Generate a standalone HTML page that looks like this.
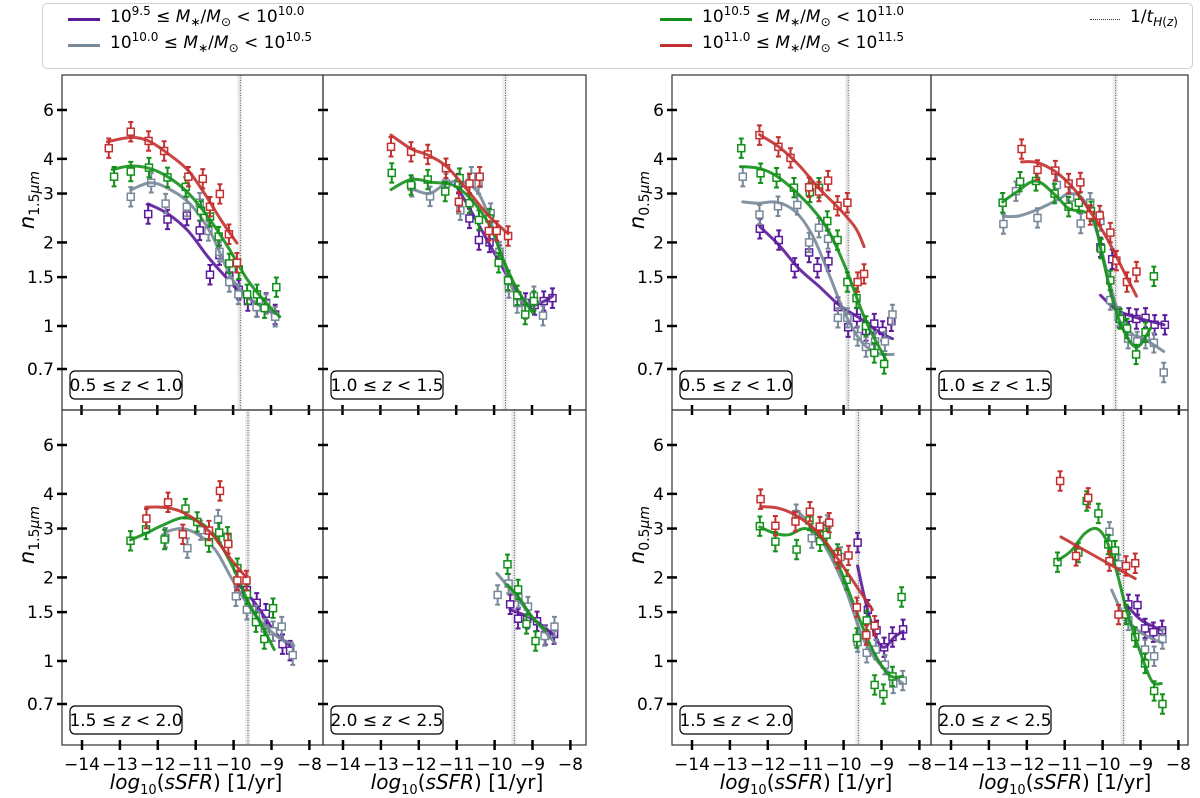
<!DOCTYPE html>
<html><head><meta charset="utf-8">
<style>
html,body{margin:0;padding:0;background:#fff;}
#wrap{position:relative;width:1200px;height:798px;overflow:hidden;font-family:"DejaVu Sans","Liberation Sans",sans-serif;color:#000;}
svg{position:absolute;left:0;top:0;}
.lg{position:absolute;font-size:17px;white-space:nowrap;}
.lg sup{font-size:12px;vertical-align:7px;line-height:0;}
.lg sub{font-size:12px;vertical-align:-4px;line-height:0;}
.yl{position:absolute;font-size:21px;white-space:nowrap;transform:rotate(-90deg);transform-origin:center center;}
.yl sub{font-size:14px;vertical-align:-5px;line-height:0;}
.xl{position:absolute;font-size:20px;white-space:nowrap;transform:translateX(-50%);}
.xl sub{font-size:13px;vertical-align:-5px;line-height:0;}
</style></head>
<body>
<div id="wrap">
<svg id="svg" width="1200" height="798"></svg>

<div style="position:absolute;left:42px;top:3px;width:1149px;height:64px;border:1px solid #d0d0d0;border-radius:5px;background:#fff;"></div>
<div style="position:absolute;left:68px;top:18px;width:32px;height:3px;background:#5a1a9a;"></div>
<div class="lg" style="left:110px;top:7px;">10<sup>9.5</sup> ≤ <i>M</i><sub>∗</sub>/<i>M</i><sub>⊙</sub> &lt; 10<sup>10.0</sup></div>
<div style="position:absolute;left:68px;top:44px;width:32px;height:3px;background:#778899;"></div>
<div class="lg" style="left:110px;top:33px;">10<sup>10.0</sup> ≤ <i>M</i><sub>∗</sub>/<i>M</i><sub>⊙</sub> &lt; 10<sup>10.5</sup></div>
<div style="position:absolute;left:660px;top:18px;width:32px;height:3px;background:#13901a;"></div>
<div class="lg" style="left:702px;top:7px;">10<sup>10.5</sup> ≤ <i>M</i><sub>∗</sub>/<i>M</i><sub>⊙</sub> &lt; 10<sup>11.0</sup></div>
<div style="position:absolute;left:660px;top:44px;width:32px;height:3px;background:#c3302f;"></div>
<div class="lg" style="left:702px;top:33px;">10<sup>11.0</sup> ≤ <i>M</i><sub>∗</sub>/<i>M</i><sub>⊙</sub> &lt; 10<sup>11.5</sup></div>
<div style="position:absolute;left:1090px;top:19px;width:30px;height:0;border-top:1px dotted #333;"></div>
<div class="lg" style="left:1130px;top:7px;">1/<i>t</i><sub><i>H</i>(<i>z</i>)</sub></div>

<div class="yl" style="left:-2px;top:188px;"><i>n</i><sub>1.5<i>μm</i></sub></div>
<div class="yl" style="left:-2px;top:523px;"><i>n</i><sub>1.5<i>μm</i></sub></div>
<div class="yl" style="left:608px;top:188px;"><i>n</i><sub>0.5<i>μm</i></sub></div>
<div class="yl" style="left:608px;top:523px;"><i>n</i><sub>0.5<i>μm</i></sub></div>

<div class="xl" style="left:196px;top:770px;"><i>log</i><sub>10</sub>(<i>sSFR</i>) [1/yr]</div>
<div class="xl" style="left:457px;top:770px;"><i>log</i><sub>10</sub>(<i>sSFR</i>) [1/yr]</div>
<div class="xl" style="left:806px;top:770px;"><i>log</i><sub>10</sub>(<i>sSFR</i>) [1/yr]</div>
<div class="xl" style="left:1065px;top:770px;"><i>log</i><sub>10</sub>(<i>sSFR</i>) [1/yr]</div>
</div>

<script>
// ---- data: [log10 sSFR, n] ----
const xTicks = [-14,-13,-12,-11,-10,-9,-8];
const xTickLabels = ["−14","−13","−12","−11","−10","−9","−8"];
const yTicks = [6,4,3,2,1.5,1,0.7];
const yTickLabels = ["6","4","3","2","1.5","1","0.7"];
const zLabels = ["0.5 ≤ z < 1.0","1.0 ≤ z < 1.5","1.5 ≤ z < 2.0","2.0 ≤ z < 2.5","0.5 ≤ z < 1.0","1.0 ≤ z < 1.5","1.5 ≤ z < 2.0","2.0 ≤ z < 2.5"];
const tHubble = [-9.81,-9.70,-9.62,-9.48,-9.88,-9.67,-9.61,-9.45];

const A_purple=[[-12.24,2.53],[-11.73,2.42],[-11.22,2.5],[-10.88,2.21],[-10.61,1.53],[-10.36,1.8],[-10.1,1.52],[-9.85,1.35],[-9.61,1.23],[-9.37,1.17],[-9.13,1.21],[-8.89,1.1]];
const A_purple_fit=[[-12.24,2.75],[-11.73,2.54],[-11.2,2.21],[-10.67,1.78],[-10.23,1.52],[-9.88,1.35],[-9.44,1.22],[-8.89,1.1]];
const A_gray=[[-12.7,2.92],[-12.16,3.28],[-11.78,2.76],[-11.22,2.69],[-10.88,2.78],[-10.65,2.2],[-10.36,1.85],[-10.1,1.44],[-9.86,1.3],[-9.38,1.17],[-9.13,1.2],[-8.89,1.08]];
const A_gray_fit=[[-12.7,3.09],[-12.17,3.28],[-11.64,3.09],[-11.11,2.73],[-10.58,2.15],[-10.05,1.5],[-9.52,1.24],[-8.9,1.11]];
const A_green=[[-13.14,3.45],[-12.7,3.6],[-12.22,3.72],[-11.73,3.43],[-11.25,3.17],[-10.85,2.6],[-10.61,2.48],[-10.38,2.1],[-10.1,1.68],[-9.85,1.6],[-9.63,1.3],[-9.37,1.3],[-9.17,1.16],[-8.86,1.38]];
const A_green_fit=[[-13.19,3.66],[-12.7,3.77],[-12.22,3.7],[-11.73,3.45],[-11.2,3.03],[-10.67,2.48],[-10.14,1.93],[-9.61,1.46],[-9.08,1.19],[-8.77,1.08]];
const A_red=[[-13.28,4.37],[-12.7,5.01],[-12.23,4.64],[-11.82,4.27],[-11.18,3.45],[-10.8,3.39],[-10.61,2.69],[-10.35,2.99],[-10.11,2.14],[-9.9,1.69]];
const A_red_fit=[[-13.32,4.61],[-12.7,4.78],[-12.23,4.64],[-11.73,4.19],[-11.2,3.65],[-10.76,3.01],[-10.32,2.41],[-9.9,1.99]];

const B_purple=[[-10.94,3.26],[-10.65,2.44],[-10.4,2.04],[-10.12,2.0],[-9.86,1.8],[-9.17,1.21],[-8.93,1.19],[-8.69,1.23],[-8.46,1.26]];
const B_purple_fit=[[-10.96,3.13],[-10.65,2.66],[-10.3,2.18],[-9.86,1.7],[-9.41,1.33],[-9.15,1.21],[-8.93,1.19],[-8.62,1.24],[-8.46,1.28]];
const B_gray=[[-12.17,3.17],[-11.69,2.93],[-11.27,3.26],[-10.89,2.61],[-10.6,3.45],[-10.41,3.25],[-10.09,2.55],[-9.86,1.85],[-9.61,1.37],[-9.39,1.21],[-9.17,1.15],[-8.95,1.28],[-8.71,1.09]];
const B_gray_fit=[[-12.19,3.13],[-11.71,3.0],[-11.27,3.26],[-10.83,3.31],[-10.38,2.96],[-9.94,2.07],[-9.59,1.44],[-9.24,1.22],[-8.8,1.22]];
const B_green=[[-12.7,3.56],[-12.19,3.22],[-11.75,3.37],[-11.29,3.05],[-10.91,3.41],[-10.65,2.77],[-10.4,2.41],[-10.12,2.44],[-9.88,1.69],[-9.63,1.46],[-9.39,1.29],[-9.18,1.1],[-8.95,1.23]];
const B_green_fit=[[-12.72,3.1],[-12.19,3.37],[-11.62,3.29],[-11.09,3.22],[-10.65,2.9],[-10.12,2.31],[-9.77,1.75],[-9.41,1.37],[-8.97,1.11]];
const B_red=[[-12.72,4.42],[-12.19,4.24],[-11.75,4.15],[-11.27,3.7],[-10.93,2.8],[-10.65,3.26],[-10.38,3.45],[-10.14,2.2],[-9.93,2.2],[-9.63,2.11]];
const B_red_fit=[[-12.72,4.87],[-12.19,4.35],[-11.75,4.13],[-11.27,3.77],[-10.74,3.13],[-10.16,2.51],[-9.63,2.15]];

const E_purple=[[-9.87,1.81],[-9.65,1.8],[-9.39,1.62],[-9.15,1.48],[-8.96,1.28],[-8.71,1.15],[-8.51,1.09]];
const E_purple_fit=[[-9.87,1.88],[-9.5,1.66],[-9.15,1.42],[-8.89,1.26],[-8.49,1.13]];
const E_gray=[[-11.8,2.78],[-11.22,2.55],[-10.87,2.96],[-10.41,3.23],[-9.94,1.71],[-9.65,1.53],[-9.41,1.46],[-9.18,1.31],[-8.96,1.28],[-8.73,1.33],[-8.44,1.05]];
const E_gray_fit=[[-11.8,2.92],[-11.35,3.0],[-10.91,2.84],[-10.47,2.5],[-10.03,1.96],[-9.59,1.57],[-9.15,1.33],[-8.71,1.19],[-8.44,1.16]];
const E_green=[[-12.72,2.71],[-12.31,2.98],[-11.82,2.74],[-11.27,3.54],[-10.96,3.17],[-10.65,2.68],[-10.38,2.9],[-10.16,2.8],[-9.9,2.16],[-9.65,1.74],[-9.41,1.38],[-9.19,1.2],[-8.96,1.55]];
const E_green_fit=[[-12.72,2.73],[-12.32,2.88],[-11.88,3.08],[-11.35,3.28],[-10.91,3.17],[-10.47,2.8],[-10.03,2.19],[-9.59,1.61],[-9.24,1.33],[-8.93,1.1]];
const E_red=[[-12.3,3.26],[-11.73,3.73],[-11.34,2.86],[-10.65,2.95],[-10.36,4.1],[-10.14,2.64],[-9.9,1.95],[-9.66,1.95]];
const E_red_fit=[[-12.32,3.58],[-11.88,3.58],[-11.44,3.48],[-11.0,3.22],[-10.56,2.85],[-10.12,2.37],[-9.68,2.01]];

const F_purple=[[-9.59,1.6],[-9.38,1.42],[-9.14,1.42],[-8.88,1.39],[-8.66,1.24],[-8.43,1.25]];
const F_purple_fit=[[-9.59,1.53],[-9.01,1.42],[-8.43,1.24]];
const F_gray=[[-9.92,1.73],[-9.63,1.9],[-9.37,1.69],[-9.12,1.57],[-8.68,1.23],[-8.42,1.33]];
const F_gray_fit=[[-9.94,2.07],[-9.54,1.78],[-9.01,1.44],[-8.4,1.16]];
const F_green=[[-9.66,2.23],[-9.38,1.81],[-9.16,1.36],[-8.92,1.18]];
const F_green_fit=[[-9.66,1.88],[-9.37,1.7],[-9.01,1.44],[-8.66,1.29]];
const F_red=[];
const F_red_fit=[];

const C_purple=[[-12.21,2.24],[-11.71,2.04],[-11.29,1.62],[-10.91,1.84],[-10.69,1.62],[-10.4,1.71],[-10.15,1.17],[-9.88,0.99],[-9.65,1.07],[-9.41,0.96],[-9.19,1.02],[-8.97,0.96],[-8.74,1.04]];
const C_purple_fit=[[-12.21,2.28],[-11.71,1.96],[-11.18,1.61],[-10.65,1.39],[-10.12,1.19],[-9.59,1.07],[-9.06,0.95],[-8.71,0.9]];
const C_gray=[[-12.66,3.45],[-12.22,2.52],[-11.73,2.7],[-11.22,2.73],[-10.91,2.0],[-10.65,2.26],[-10.41,2.06],[-10.15,1.07],[-9.9,1.07],[-9.63,0.92],[-9.41,0.84],[-9.17,0.88],[-8.91,0.88],[-8.71,1.1]];
const C_gray_fit=[[-12.66,2.8],[-12.24,2.77],[-11.75,2.79],[-11.27,2.58],[-10.83,2.13],[-10.38,1.53],[-10.03,1.16],[-9.59,0.9],[-9.15,0.8],[-8.69,0.79]];
const C_green=[[-12.7,4.37],[-12.19,3.55],[-11.77,3.42],[-11.31,3.15],[-10.89,3.03],[-10.65,3.15],[-10.43,2.39],[-10.16,2.04],[-9.9,1.44],[-9.66,1.26],[-9.41,1.0],[-9.19,0.8],[-8.93,0.73]];
const C_green_fit=[[-12.72,3.75],[-12.24,3.7],[-11.8,3.49],[-11.36,3.13],[-10.83,2.65],[-10.38,2.18],[-9.94,1.61],[-9.41,1.04],[-8.89,0.76]];
const C_red=[[-12.22,4.87],[-11.72,4.42],[-11.4,4.03],[-10.91,3.16],[-10.65,3.05],[-10.41,3.34],[-10.16,2.71],[-9.9,2.78],[-9.63,1.44],[-9.46,1.54]];
const C_red_fit=[[-12.22,4.89],[-11.71,4.42],[-11.18,3.8],[-10.65,3.13],[-10.12,2.65],[-9.68,2.25],[-9.46,1.93]];

const D_purple=[[-10.07,1.92],[-9.76,1.74],[-9.57,1.07],[-9.32,1.07],[-9.12,1.06],[-8.88,1.07],[-8.64,1.01],[-8.37,1.01]];
const D_purple_fit=[[-10.07,1.29],[-9.63,1.14],[-9.1,1.07],[-8.39,1.01]];
const D_gray=[[-12.63,2.33],[-12.3,3.06],[-11.73,2.45],[-11.22,3.22],[-10.87,2.9],[-10.59,2.34],[-10.34,2.78],[-10.07,2.39],[-9.81,1.24],[-9.59,1.08],[-9.34,0.9],[-9.1,0.88],[-8.88,0.9],[-8.66,0.87],[-8.4,0.68]];
const D_gray_fit=[[-12.63,2.48],[-12.23,2.49],[-11.75,2.62],[-11.22,2.84],[-10.87,3.0],[-10.51,2.84],[-10.16,2.17],[-9.9,1.57],[-9.63,1.16],[-9.28,0.95],[-8.92,0.9],[-8.4,0.81]];
const D_green=[[-12.65,2.78],[-12.19,3.31],[-11.77,3.33],[-11.28,3.0],[-10.91,2.69],[-10.64,2.78],[-10.32,2.59],[-10.05,1.9],[-9.81,1.46],[-9.55,1.06],[-9.37,0.98],[-9.13,0.79],[-8.88,0.95],[-8.66,1.51]];
const D_green_fit=[[-12.65,2.8],[-12.28,3.04],[-11.77,3.33],[-11.26,2.96],[-10.91,2.65],[-10.51,2.58],[-10.25,2.44],[-9.99,1.71],[-9.63,1.1],[-9.15,0.84],[-8.75,0.98]];
const D_red=[[-12.15,4.34],[-11.73,3.65],[-11.26,3.63],[-10.91,3.26],[-10.6,3.29],[-10.34,2.51],[-10.09,2.5],[-9.81,2.17],[-9.65,1.72],[-9.37,1.44],[-9.12,1.57]];
const D_red_fit=[[-12.15,3.9],[-11.75,3.88],[-11.26,3.6],[-10.78,3.13],[-10.34,2.58],[-9.9,2.07],[-9.45,1.57],[-9.12,1.28]];

const G_purple=[[-9.63,2.67],[-9.36,1.53],[-9.13,1.29],[-8.93,1.12],[-8.71,1.22],[-8.43,1.3]];
const G_purple_fit=[[-9.63,2.2],[-9.41,1.61],[-9.15,1.22],[-8.93,1.12],[-8.66,1.22],[-8.43,1.28]];
const G_gray=[[-11.25,3.38],[-10.84,2.77],[-10.43,3.09],[-10.08,2.37],[-9.63,1.17],[-9.39,1.07],[-9.15,1.1],[-8.91,0.97],[-8.69,0.83],[-8.44,0.85]];
const G_gray_fit=[[-11.25,3.5],[-10.83,3.05],[-10.38,2.44],[-9.94,1.8],[-9.5,1.22],[-9.06,0.98],[-8.44,0.83]];
const G_green=[[-12.21,3.06],[-11.8,2.69],[-11.24,2.52],[-10.9,3.21],[-10.62,2.7],[-10.45,2.85],[-10.16,2.43],[-9.92,1.96],[-9.65,1.21],[-9.39,1.4],[-9.18,0.82],[-8.95,0.76],[-8.71,0.88],[-8.47,1.7]];
const G_green_fit=[[-12.21,3.04],[-11.8,2.88],[-11.44,2.85],[-11.0,3.0],[-10.56,2.73],[-10.12,2.18],[-9.68,1.53],[-9.24,1.1],[-8.8,0.89],[-8.44,0.88]];
const G_red=[[-12.19,3.83],[-11.8,3.07],[-11.27,3.18],[-10.89,3.45],[-10.63,3.05],[-10.38,3.15],[-10.15,2.34],[-9.87,2.4],[-9.65,1.56],[-9.4,1.24],[-9.18,1.34]];
const G_red_fit=[[-12.19,3.6],[-11.71,3.55],[-11.18,3.3],[-10.65,2.87],[-10.12,2.3],[-9.59,1.8],[-9.24,1.53]];

const H_purple=[[-9.32,1.6],[-9.08,1.59],[-8.88,1.31],[-8.66,1.27],[-8.43,1.29]];
const H_purple_fit=[[-9.37,1.59],[-8.97,1.4],[-8.43,1.29]];
const H_gray=[[-9.82,2.92],[-9.58,2.23],[-9.32,1.4],[-8.88,1.1],[-8.64,1.04],[-8.42,1.2]];
const H_gray_fit=[[-9.76,1.8],[-9.41,1.44],[-8.97,1.26],[-8.42,1.16]];
const H_green=[[-11.19,2.27],[-10.64,2.46],[-10.42,3.77],[-10.11,3.4],[-9.85,2.63],[-9.67,2.5],[-9.38,1.47],[-9.14,1.22],[-8.88,0.98],[-8.64,0.78],[-8.42,0.7]];
const H_green_fit=[[-11.17,2.31],[-10.82,2.5],[-10.47,2.88],[-10.16,3.0],[-9.9,2.72],[-9.64,2.13],[-9.37,1.53],[-9.06,1.13],[-8.71,0.85],[-8.45,0.83]];
const H_red=[[-11.12,4.45],[-10.7,2.39],[-10.38,3.87],[-9.82,2.29],[-9.58,1.47],[-9.38,2.2],[-9.14,2.25]];
const H_red_fit=[[-11.1,2.8],[-9.14,1.98]];

const errDex = 0.035;

// ---- drawing ----
const NS="http://www.w3.org/2000/svg";
const svg=document.getElementById('svg');
const colors={purple:"#5a1a9a",gray:"#778899",green:"#13901a",red:"#c3302f"};
const panelData={
 A:[A_purple,A_purple_fit,A_gray,A_gray_fit,A_green,A_green_fit,A_red,A_red_fit],
 B:[B_purple,B_purple_fit,B_gray,B_gray_fit,B_green,B_green_fit,B_red,B_red_fit],
 E:[E_purple,E_purple_fit,E_gray,E_gray_fit,E_green,E_green_fit,E_red,E_red_fit],
 F:[F_purple,F_purple_fit,F_gray,F_gray_fit,F_green,F_green_fit,F_red,F_red_fit],
 C:[C_purple,C_purple_fit,C_gray,C_gray_fit,C_green,C_green_fit,C_red,C_red_fit],
 D:[D_purple,D_purple_fit,D_gray,D_gray_fit,D_green,D_green_fit,D_red,D_red_fit],
 G:[G_purple,G_purple_fit,G_gray,G_gray_fit,G_green,G_green_fit,G_red,G_red_fit],
 H:[H_purple,H_purple_fit,H_gray,H_gray_fit,H_green,H_green_fit,H_red,H_red_fit]
};
const layout=[
 {id:'A',x0:62,x1:323,y0:75,y1:410,ax:81.5,yb:326,left:true,bottom:false},
 {id:'B',x0:323,x1:586,y0:75,y1:410,ax:342.5,yb:326,left:false,bottom:false},
 {id:'E',x0:62,x1:323,y0:410,y1:745,ax:82,yb:661,left:true,bottom:true},
 {id:'F',x0:323,x1:586,y0:410,y1:745,ax:343,yb:661,left:false,bottom:true},
 {id:'C',x0:672,x1:931,y0:75,y1:410,ax:692,yb:326,left:true,bottom:false},
 {id:'D',x0:931,x1:1188,y0:75,y1:410,ax:951.5,yb:326,left:false,bottom:false},
 {id:'G',x0:672,x1:931,y0:410,y1:745,ax:692,yb:661,left:true,bottom:true},
 {id:'H',x0:931,x1:1188,y0:410,y1:745,ax:951,yb:661,left:false,bottom:true}
];
const UX=37.9, UY=277.6;
function mk(tag,attrs,parent){const e=document.createElementNS(NS,tag);for(const k in attrs)e.setAttribute(k,attrs[k]);(parent||svg).appendChild(e);return e;}
function smoothPath(pts){
 if(pts.length<2)return '';
 let d='M'+pts[0][0].toFixed(1)+','+pts[0][1].toFixed(1);
 for(let i=0;i<pts.length-1;i++){
  const p0=pts[i-1]||pts[i],p1=pts[i],p2=pts[i+1],p3=pts[i+2]||p2;
  const c1=[p1[0]+(p2[0]-p0[0])/6,p1[1]+(p2[1]-p0[1])/6];
  const c2=[p2[0]-(p3[0]-p1[0])/6,p2[1]-(p3[1]-p1[1])/6];
  d+=' C'+c1[0].toFixed(1)+','+c1[1].toFixed(1)+' '+c2[0].toFixed(1)+','+c2[1].toFixed(1)+' '+p2[0].toFixed(1)+','+p2[1].toFixed(1);
 }
 return d;
}
const order=['purple','gray','green','red'];
layout.forEach((L,pi)=>{
 const sx=v=>L.ax+(v+14)*UX;
 const sy=n=>L.yb-UY*Math.log10(n);
 const g=mk('g',{});
 
 
 const clipId='clip'+L.id;
 const cp=mk('clipPath',{id:clipId},g);
 mk('rect',{x:L.x0,y:L.y0,width:L.x1-L.x0,height:L.y1-L.y0},cp);
 const hx=sx(tHubble[pi]);
 const hb=mk('rect',{x:hx-3,y:L.y0,width:5,height:L.y1-L.y0,fill:'#ececec'},g);
 
 
 const hl=mk('line',{x1:hx,x2:hx,y1:L.y0,y2:L.y1,stroke:'#555','stroke-width':1,'stroke-dasharray':'1,1.5'},g);
 
 
 const dg=mk('g',{'clip-path':'url(#'+clipId+')'},g);
 const arr=panelData[L.id];
 order.forEach((c,si)=>{
  const pts=arr[si*2], fit=arr[si*2+1];
  const col=colors[c];
  pts.forEach(p=>{
   const x=sx(p[0]), y=sy(p[1]);
   const yt=sy(p[1]*Math.pow(10,errDex)), ybm=sy(p[1]/Math.pow(10,errDex));
   const eb=mk('path',{d:`M${x},${yt}V${ybm}M${x-2.5},${yt}h5M${x-2.5},${ybm}h5`,stroke:col,'stroke-width':2,fill:'none'},dg);
   
   
   const m=mk('rect',{x:x-3.5,y:y-3.5,width:7,height:7,fill:'#fff',stroke:col,'stroke-width':1.5},dg);
   
   
  });
  const fp=fit.map(p=>[sx(p[0]),sy(p[1])]);
  if(fp.length>1){
   const ln=mk('path',{d:smoothPath(fp),stroke:col,'stroke-width':3,fill:'none','stroke-opacity':0.9,'stroke-linecap':'round'},dg);
   
   
  }
 });
 const fr=mk('rect',{x:L.x0,y:L.y0,width:L.x1-L.x0,height:L.y1-L.y0,fill:'none',stroke:'#333','stroke-width':1.2},g);
 
 
 yTicks.forEach((t,i)=>{
  const y=sy(t);
  const tk=mk('line',{x1:L.x0-5,x2:L.x0+5,y1:y,y2:y,stroke:'#000','stroke-width':2.5},g);
  
  
  if(L.left){
   const tl=mk('text',{x:L.x0-8,y:y+6,'text-anchor':'end','font-size':17,'font-family':'DejaVu Sans, Liberation Sans, sans-serif'},g);
   tl.textContent=yTickLabels[i];
   
   
  }
 });
 xTicks.forEach((t,i)=>{
  const x=sx(t);
  const tk=mk('line',{x1:x,x2:x,y1:L.y1-5,y2:L.y1+5,stroke:'#000','stroke-width':2.5},g);
  
  
  if(L.bottom){
   const tl=mk('text',{x:x,y:L.y1+25,'text-anchor':'middle','font-size':17,'font-family':'DejaVu Sans, Liberation Sans, sans-serif'},g);
   tl.textContent=xTickLabels[i];
   
   
  }
 });
 const bx=L.x0+8, by=L.y1-39;
 const zb=mk('rect',{x:bx,y:by,width:112,height:28,rx:5,fill:'#fff',stroke:'#000','stroke-width':1.2},g);
 
 
 const zt=mk('text',{x:bx+56,y:by+20,'text-anchor':'middle','font-size':17,'font-family':'DejaVu Sans, Liberation Sans, sans-serif'},g);
 const parts=zLabels[pi].split('z');
 const t1=mk('tspan',{},zt); t1.textContent=parts[0];
 const t2=mk('tspan',{'font-style':'italic'},zt); t2.textContent='z';
 const t3=mk('tspan',{},zt); t3.textContent=parts[1];
 
 
});
</script>
</body></html>
